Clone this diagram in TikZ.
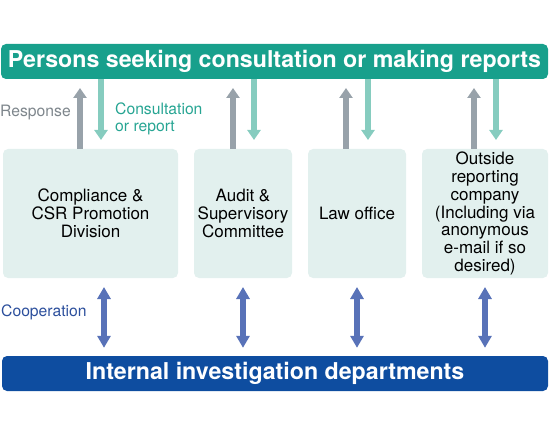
\documentclass[tikz,border=0pt]{standalone}
\usepackage{fontspec}
\setmainfont{TeX Gyre Heros}
\usepackage{tikz}
\usetikzlibrary{arrows.meta}
\definecolor{PersonTeal}{HTML}{18A08C}
\definecolor{BoxMint}{HTML}{E2F0EE}
\definecolor{RespGray}{HTML}{98A2AA}
\definecolor{RespText}{HTML}{7E868C}
\definecolor{ReportTeal}{HTML}{86CCBF}
\definecolor{ReportText}{HTML}{27A593}
\definecolor{CoopBlue}{HTML}{5872B8}
\definecolor{CoopText}{HTML}{2C4F9C}
\definecolor{InvBlue}{HTML}{0E4DA0}

\begin{document}
\begin{tikzpicture}[x=1pt, y=-1pt,
	bar/.style={rounded corners=5pt, text=white, inner sep=0pt, minimum height=35pt, font=\fontsize{23.2}{25}\selectfont\bfseries},
	deskbox/.style={fill=BoxMint, rounded corners=5pt, align=center, inner sep=0pt, minimum height=129pt, font=\fontsize{17}{17.8}\selectfont},
	sidelabel/.style={align=left, inner sep=0pt, font=\fontsize{15.7}{17}\selectfont},
	respond/.style={draw=RespGray, line width=6pt, -{Triangle[width=13pt,length=10pt]}},
	report/.style={draw=ReportTeal, line width=6pt, -{Triangle[width=13pt,length=10pt]}},
	coop/.style={draw=CoopBlue, line width=6pt, {Triangle[width=13pt,length=12pt]}-{Triangle[width=13pt,length=12pt]}}]
	\useasboundingbox (0,0) rectangle (550,436);
	\node[bar, fill=PersonTeal, minimum width=547pt] (persons) at (274.5,61.5) {Persons seeking consultation or making reports};
	\node[deskbox, minimum width=175pt] (comp) at (90.5,213.5) {Compliance \&\\CSR Promotion\\Division};
	\node[deskbox, minimum width=98pt] (audit) at (243,213.5) {Audit \&\\Supervisory\\Committee};
	\node[deskbox, minimum width=98pt] (law) at (357,213.5) {Law office};
	\node[deskbox, minimum width=126pt] (outside) at (485,213.5) {Outside\\reporting\\company\\(Including via\\anonymous\\e-mail if so\\desired)};
	\node[bar, fill=InvBlue, minimum width=546pt] (inv) at (275,373.5) {Internal investigation departments};
	\node[sidelabel, text=RespText, anchor=west] (resp) at (0,112) {Response};
	\node[sidelabel, text=ReportText, anchor=north west] (rep) at (115,103) {Consultation\\or report};
	\node[sidelabel, text=CoopText, anchor=west] (coopl) at (1,312) {Cooperation};
	\coordinate (r1) at (80,88);
	\coordinate (r2) at (233,88);
	\coordinate (r3) at (346,88);
	\coordinate (r4) at (474,88);
	\coordinate (c1) at (101,140);
	\coordinate (c2) at (254,140);
	\coordinate (c3) at (368,140);
	\coordinate (c4) at (496,140);
	\coordinate (k1) at (104,287);
	\coordinate (k2) at (243,287);
	\coordinate (k3) at (357,287);
	\coordinate (k4) at (485,287);
	\draw[respond] (comp.north -| r1) -- (r1);
	\draw[respond] (audit.north -| r2) -- (r2);
	\draw[respond] (law.north -| r3) -- (r3);
	\draw[respond] (outside.north -| r4) -- (r4);
	\draw[report] (persons.south -| c1) -- (c1);
	\draw[report] (persons.south -| c2) -- (c2);
	\draw[report] (persons.south -| c3) -- (c3);
	\draw[report] (persons.south -| c4) -- (c4);
	\draw[coop, shorten >=8pt] (k1) -- (inv.north -| k1);
	\draw[coop, shorten >=8pt] (k2) -- (inv.north -| k2);
	\draw[coop, shorten >=8pt] (k3) -- (inv.north -| k3);
	\draw[coop, shorten >=8pt] (k4) -- (inv.north -| k4);
\end{tikzpicture}
\end{document}
